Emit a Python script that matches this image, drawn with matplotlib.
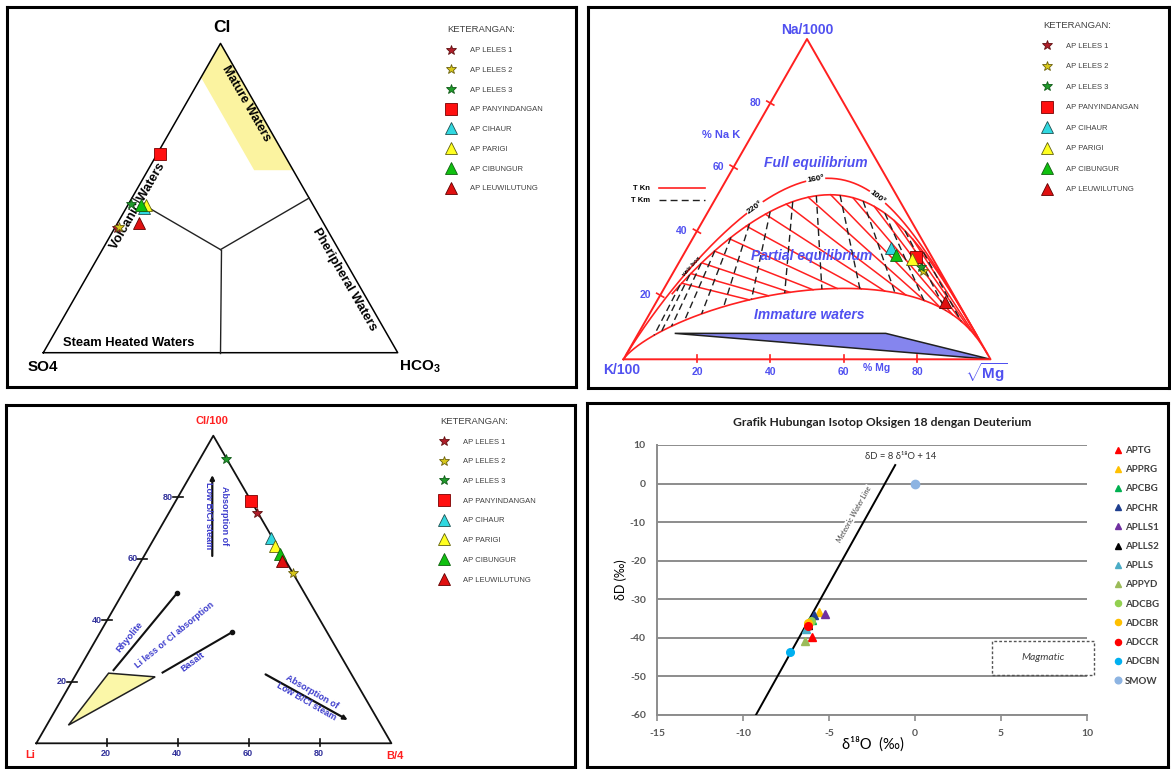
import numpy as np
import matplotlib
matplotlib.use('Agg')
import matplotlib.pyplot as plt
from matplotlib.lines import Line2D
from matplotlib.patches import Polygon, Rectangle

plt.rcParams['font.family'] = ['Liberation Sans', 'DejaVu Sans']
plt.rcParams['mathtext.fontset'] = 'custom'
plt.rcParams['mathtext.rm'] = 'Liberation Sans:bold'
plt.rcParams['mathtext.bf'] = 'Liberation Sans:bold'
plt.rcParams['mathtext.it'] = 'Liberation Sans:italic'
plt.rcParams['axes.unicode_minus'] = False

W, H = 1171, 769
CH = ['Lato', 'DejaVu Sans']

# ---------------- samples shown on the three ternary diagrams
samples = ['AP LELES 1', 'AP LELES 2', 'AP LELES 3', 'AP PANYINDANGAN',
           'AP CIHAUR', 'AP PARIGI', 'AP CIBUNGUR', 'AP LEUWILUTUNG']
s_marker = ['*', '*', '*', 's', '^', '^', '^', '^']
s_face = ['#b01e2a', '#d8c81a', '#1f9a2a', '#ff1010', '#30d8e0', '#ffff20', '#10c010', '#e01010']
s_edge = ['#601010', '#6a6010', '#105a18', '#7a0000', '#205050', '#606010', '#106010', '#600000']
s_size = [7, 7, 7, 8, 8, 8, 8, 8]

# Cl - SO4 - HCO3 (%)
cl = [40.4, 40.7, 48.1, 64.1, 46.7, 47.7, 47.7, 41.8]
so4 = [58.9, 58.3, 51.2, 35.1, 48.2, 47.2, 48.7, 52.1]
hco3 = [0.7, 1.0, 0.7, 0.8, 5.1, 5.1, 3.6, 6.1]

# Na/1000 - K/100 - sqrt(Mg) (%)
na = [32.5, 27.6, 28.7, 31.8, 34.9, 31.2, 32.5, 17.9]
kk = [4.6, 4.6, 4.5, 4.3, 9.6, 5.9, 9.4, 3.5]
mg = [62.9, 67.8, 66.8, 63.9, 55.5, 62.9, 58.1, 78.6]

# Cl/100 - Li - B/4 (%)
cl100 = [74.8, 55.3, 92.4, 78.8, 66.8, 64.2, 61.6, 59.3]
li = [0.2, 0.1, 0.2, 0.1, 0.5, 0.6, 0.5, 1.2]
b4 = [25.0, 44.6, 7.4, 21.1, 32.7, 35.2, 37.9, 39.5]

# ---------------- isotope chart
iso_names = ['APTG', 'APPRG', 'APCBG', 'APCHR', 'APLLS1', 'APLLS2', 'APLLS',
             'APPYD', 'ADCBG', 'ADCBR', 'ADCCR', 'ADCBN', 'SMOW']
iso_o18 = [-6.0, -5.6, -6.0, -5.9, -5.25, -6.2, -6.35, -6.4, -6.05, -6.2, -6.25, -7.25, 0.0]
iso_dd = [-39.9, -33.4, -35.3, -34.1, -33.8, -36.6, -37.8, -40.7, -35.6, -36.2, -37.0, -43.7, 0.0]
iso_marker = ['^'] * 8 + ['o'] * 5
iso_color = ['#ff0000', '#ffc000', '#00b050', '#1f3f8f', '#7030a0', '#000000', '#4bacc6',
             '#9bbb59', '#92d050', '#ffc000', '#ff0000', '#00b0f0', '#8db4e2']
mwl_o18 = [-9.25, -1.15]
mwl_dd = [-60.0, 4.8]
mag_o18 = [4.5, 10.4]
mag_dd = [-49.5, -40.7]

# ---------------- diagram templates
band_so4 = [0, 11, 11, 0]          # mature waters band
band_hco3 = [0, 0, 30, 41]
band_cl = [100, 89, 59, 59]

mi_full, mi_inner, mi_immature = 2.66, 2.57, 2.0   # maturity index of the curves
tkn_temps = list(range(80, 341, 20))
tkm_temps = list(range(60, 321, 20))
arc_label_temps = [220, 160, 100]
wedge_k = [82.0, 24.5, 0.0]
wedge_mg = [9.9, 67.4, 100.0]
wedge_na = [8.1, 8.1, 0.0]

yf_li = [68.2, 55.7, 88.0]         # Li-Cl-B yellow field
yf_b = [9.0, 22.7, 6.1]
yf_cl = [22.8, 21.6, 5.9]
rh_li, rh_b, rh_cl = [66.3, 35.9], [9.9, 15.3], [23.8, 48.8]
ba_li, ba_b, ba_cl = [52.9, 26.6], [24.1, 37.2], [23.0, 36.2]
ua_li, ua_b, ua_cl = [19.9, 6.7], [19.2, 6.1], [60.9, 87.2]
la_li, la_b, la_cl = [24.2, 8.5], [53.4, 83.9], [22.4, 7.6]
tick_vals = [20, 40, 60, 80]

RED = '#ff2020'
BLUE = '#5050f0'
NAVY = '#30309a'

fig = plt.figure(figsize=(W / 100, H / 100), dpi=100)


def panel(x0, y0, x1, y1):
    ax = fig.add_axes([x0 / W, 1 - y1 / H, (x1 - x0) / W, (y1 - y0) / H])
    ax.set_xlim(x0, x1)
    ax.set_ylim(y1, y0)
    ax.set_xticks([])
    ax.set_yticks([])
    for sp in ax.spines.values():
        sp.set_linewidth(2.2)
    return ax


def tern(p, q, r, verts):
    p, q, r = (np.asarray(v, float) for v in (p, q, r))
    s = p + q + r
    v = np.asarray(verts, float)
    x = (p * v[0, 0] + q * v[1, 0] + r * v[2, 0]) / s
    y = (p * v[0, 1] + q * v[1, 1] + r * v[2, 1]) / s
    return x, y


def plot_samples(ax, x, y):
    for i in range(len(samples)):
        ax.plot(x[i], y[i], ls='none', marker=s_marker[i], ms=s_size[i], mfc=s_face[i],
                mec=s_edge[i], mew=0.6, zorder=6)


def sample_legend(ax, x, y, ls):
    handles = [Line2D([], [], ls='none', marker=m, ms=s, mfc=f, mec=e, mew=0.6)
               for m, s, f, e in zip(s_marker, s_size, s_face, s_edge)]
    leg = ax.legend(handles, samples, loc='upper left', bbox_to_anchor=(x, y),
                    bbox_transform=ax.transData, frameon=False, borderpad=0, borderaxespad=0,
                    title='KETERANGAN:', title_fontsize=6.8, fontsize=5.5, labelspacing=ls,
                    handlelength=1.0, handletextpad=2.0, alignment='left', labelcolor='#404040')
    leg.get_title().set_color('#404040')
    return leg


# ================= panel 1 : Cl - SO4 - HCO3
ax1 = panel(7, 7, 576, 387)
V1 = [(43.3, 352.7), (397.7, 352.7), (220.5, 43.4)]
bx, by = tern(band_so4, band_hco3, band_cl, V1)
ax1.add_patch(Polygon(np.column_stack([bx, by]), closed=True, fc='#fbf3a0', ec='none', zorder=1))
ox, oy = tern([100, 0, 0, 100], [0, 100, 0, 0], [0, 0, 100, 0], V1)
ax1.plot(ox, oy, color='black', lw=1.1, zorder=3)
for mid in [(50, 0, 50), (0, 50, 50), (50, 50, 0)]:
    lx, ly = tern([100 / 3, mid[0]], [100 / 3, mid[1]], [100 / 3, mid[2]], V1)
    ax1.plot(lx, ly, color='#222222', lw=1.0, zorder=3)
ax1.text(222, 28, 'Cl', fontsize=12.5, fontweight='bold', ha='center', va='center')
ax1.text(42.5, 367, 'SO4', fontsize=11, fontweight='bold', ha='center', va='center')
ax1.text(420, 367, r'HCO$_3$', fontsize=11, fontweight='bold', ha='center', va='center')
ax1.text(128.7, 343.3, 'Steam Heated Waters', fontsize=9.3, fontweight='bold', ha='center', va='center')
ax1.text(246, 104, 'Mature Waters', fontsize=9, fontweight='bold', ha='center', va='center',
         rotation=-60, rotation_mode='anchor', zorder=4)
ax1.text(137.6, 205.7, 'Volcanic Waters', fontsize=9.3, fontweight='bold', ha='center', va='center',
         rotation=60, rotation_mode='anchor', zorder=4)
ax1.text(344.8, 279.3, 'Pheripheral Waters', fontsize=9.3, fontweight='bold', ha='center', va='center',
         rotation=-60, rotation_mode='anchor', zorder=4)
px, py = tern(so4, hco3, cl, V1)
plot_samples(ax1, px, py)
sample_legend(ax1, 446.8, 25.5, 1.62)

# ================= panel 2 : Na - K - Mg
ax2 = panel(588, 7, 1169, 388)
V2 = [(623.5, 359.3), (990.5, 359.3), (807.0, 39.0)]   # K/100, sqrt(Mg), Na/1000


def gig_curve(mi, r):
    r = np.asarray(r, float)
    return np.ones_like(r), 1 / r, 10 ** (mi - 2.26) * r ** -0.63


wx, wy = tern(wedge_k, wedge_mg, wedge_na, V2)
ax2.add_patch(Polygon(np.column_stack([wx, wy]), closed=True, fc='#8585ee', ec='#202020', lw=1.1, zorder=2))
ox, oy = tern([100, 0, 0, 100], [0, 100, 0, 0], [0, 0, 100, 0], V2)
ax2.plot(ox, oy, color=RED, lw=1.4, zorder=3)
for mi, r0 in [(mi_full, 3.5), (mi_inner, 1.4), (mi_immature, 3.5)]:
    cx, cy = tern(*gig_curve(mi, np.logspace(r0, -4, 400)), V2)
    ax2.plot(cx, cy, color=RED, lw=1.2, zorder=3)
for t in tkn_temps:
    ratio = 10 ** (1390 / (t + 273.15) - 1.75) / 10
    rs = [10 ** ((mi - 2.26 - np.log10(ratio)) / 0.63) for mi in (mi_inner, mi_immature)]
    ix, iy = tern([1, 1], [1 / rs[0], 1 / rs[1]], [ratio, ratio], V2)
    ax2.plot(ix, iy, color=RED, lw=1.1, zorder=3)
for t in tkm_temps:
    r = np.sqrt(10 ** (14.0 - 4410 / (t + 273.15))) / 100
    a = [10 ** (mi - 2.26) * r ** -0.63 for mi in (mi_inner, mi_immature)]
    ix, iy = tern([1, 1], [1 / r, 1 / r], a, V2)
    ax2.plot(ix, iy, color='#202020', lw=1.0, dashes=(5, 3), zorder=3)
for t in arc_label_temps:
    ratio = 10 ** (1390 / (t + 273.15) - 1.75) / 10
    r = 10 ** ((mi_full - 2.26 - np.log10(ratio)) / 0.63)
    lx, ly = tern(*gig_curve(mi_full, [r * 1.2, r, r / 1.2]), V2)
    ang = np.degrees(np.arctan2(-(ly[2] - ly[0]), lx[2] - lx[0]))
    ax2.text(lx[1], ly[1], f'{t}\u00b0', rotation=ang, rotation_mode='anchor', ha='center', va='center',
             fontsize=6, fontweight='bold', bbox=dict(fc='white', ec='none', pad=0.6), zorder=4)
# axes ticks along edges
for v in tick_vals:
    tx, ty = tern([100 - v], [0], [v], V2)
    ax2.plot([tx[0] - 3.5, tx[0] + 3.5], [ty[0] - 2, ty[0] + 2], color=RED, lw=1.2)
    ax2.text(tx[0] - 15, ty[0], str(v), color=BLUE, fontsize=7.5, fontweight='bold', ha='center', va='center')
    tx, ty = tern([100 - v], [v], [0], V2)
    ax2.plot([tx[0], tx[0]], [ty[0] - 4.5, ty[0] + 3], color=RED, lw=1.2)
    ax2.text(tx[0], ty[0] + 13, str(v), color=BLUE, fontsize=7.5, fontweight='bold', ha='center', va='center')
ax2.text(721.4, 135, '% Na K', color=BLUE, fontsize=8, fontweight='bold', ha='center', va='center')
ax2.text(876.5, 368.3, '% Mg', color=BLUE, fontsize=7.5, fontweight='bold', ha='center', va='center')
ax2.text(807.7, 30, 'Na/1000', color=BLUE, fontsize=10, fontweight='bold', ha='center', va='center')
ax2.text(621.6, 370, 'K/100', color=BLUE, fontsize=10, fontweight='bold', ha='center', va='center')
ax2.text(986.7, 373, r'$\sqrt{\mathrm{Mg}}$', color=BLUE, fontsize=11, ha='center', va='center')
for txt, xy in [('Full equilibrium', (815.9, 163.3)), ('Partial equilibrium', (811.8, 255.7)),
                ('Immature waters', (809.2, 315))]:
    ax2.text(*xy, txt, color=BLUE, fontsize=10, fontweight='bold', style='italic',
             ha='center', va='center', zorder=5)
ax2.text(691.7, 266.7, 'weir box', fontsize=4.5, fontweight='bold', rotation=48,
         ha='center', va='center', zorder=4)
tleg = ax2.legend([Line2D([], [], color=RED, lw=1.2), Line2D([], [], color='#202020', lw=1.0, dashes=(5, 3))],
                  ['T Kn', 'T Km'], markerfirst=False, frameon=False, loc='upper left',
                  bbox_to_anchor=(631, 185), bbox_transform=ax2.transData, borderpad=0, borderaxespad=0,
                  handlelength=6, handletextpad=1.2, labelspacing=0.6,
                  prop=dict(weight='bold', size=5.5))
ax2.add_artist(tleg)
px, py = tern(kk, mg, na, V2)
plot_samples(ax2, px, py)
sample_legend(ax2, 1043, 20.5, 1.72)

# ================= panel 3 : Cl - Li - B
ax3 = panel(6, 405, 575, 767)
V3 = [(36.3, 743.3), (391.4, 743.3), (213.3, 435.7)]   # Li, B/4, Cl/100
yx, yy = tern(yf_li, yf_b, yf_cl, V3)
ax3.add_patch(Polygon(np.column_stack([yx, yy]), closed=True, fc='#fbf7a8', ec='#202020', lw=1.1, zorder=2))
ox, oy = tern([100, 0, 0, 100], [0, 100, 0, 0], [0, 0, 100, 0], V3)
ax3.plot(ox, oy, color='#111111', lw=1.3, zorder=3)
for v in tick_vals:
    tx, ty = tern([100 - v], [0], [v], V3)
    ax3.plot([tx[0] - 5, tx[0] + 5], [ty[0], ty[0]], color='#111111', lw=1.2)
    ax3.text(tx[0] - 10, ty[0], str(v), color=NAVY, fontsize=6.5, fontweight='bold', ha='center', va='center')
    tx, ty = tern([100 - v], [v], [0], V3)
    ax3.plot([tx[0], tx[0]], [ty[0] - 4, ty[0] + 3], color='#111111', lw=1.2)
    ax3.text(tx[0] - 1.5, ty[0] + 10.5, str(v), color=NAVY, fontsize=6.5, fontweight='bold', ha='center', va='center')
for lli, lb, lcl in [(rh_li, rh_b, rh_cl), (ba_li, ba_b, ba_cl)]:
    lx, ly = tern(lli, lb, lcl, V3)
    ax3.plot(lx, ly, color='#111111', lw=1.5, zorder=3)
    ax3.plot(lx[1], ly[1], 'o', ms=3, color='#111111', zorder=3)
for lli, lb, lcl in [(ua_li, ua_b, ua_cl), (la_li, la_b, la_cl)]:
    lx, ly = tern(lli, lb, lcl, V3)
    ax3.annotate('', xy=(lx[1], ly[1]), xytext=(lx[0], ly[0]),
                 arrowprops=dict(arrowstyle='-|>', color='#111111', lw=1.6, mutation_scale=6,
                                 shrinkA=0, shrinkB=0), zorder=3)
ax3.text(212, 421, 'Cl/100', color=RED, fontsize=8, fontweight='bold', ha='center', va='center')
ax3.text(30.3, 755, 'Li', color=RED, fontsize=8, fontweight='bold', ha='center', va='center')
ax3.text(395.1, 755.7, 'B/4', color=RED, fontsize=8, fontweight='bold', ha='center', va='center')
TB = '#3c3ccc'
ax3.text(216.5, 515.3, 'Absorption of\nLow B/Cl steam', color=TB, fontsize=6.5, fontweight='bold',
         rotation=-90, ha='center', va='center', linespacing=1.9, rotation_mode='anchor')
ax3.text(309, 696.7, 'Absorption of\nLow B/Cl steam', color=TB, fontsize=6.5, fontweight='bold',
         rotation=-30, ha='center', va='center', linespacing=1.2, rotation_mode='anchor')
ax3.text(130, 637.3, 'Rhyolite', color=TB, fontsize=6.7, fontweight='bold', rotation=50.5,
         ha='center', va='center', rotation_mode='anchor')
ax3.text(175, 634.7, 'Li less or Cl absorption', color=TB, fontsize=6.4, fontweight='bold', rotation=39.3,
         ha='center', va='center', rotation_mode='anchor')
ax3.text(192.7, 661.7, 'Basalt', color=TB, fontsize=6.5, fontweight='bold', rotation=36.7,
         ha='center', va='center', rotation_mode='anchor')
px, py = tern(li, b4, cl100, V3)
plot_samples(ax3, px, py)
sample_legend(ax3, 440.2, 416.8, 1.62)

# ================= panel 4 : isotope chart
ax4f = panel(587, 403, 1168, 767)
ax4 = fig.add_axes([657 / W, 1 - 715 / H, 430 / W, 270 / H])
ax4.set_xlim(-15, 10)
ax4.set_ylim(-60, 10)
ax4.set_xticks(range(-15, 11, 5))
ax4.set_yticks(range(-60, 11, 10))
ax4.grid(axis='y', color='#8c8c8c', lw=1.4)
ax4.set_axisbelow(True)
for s in ['top', 'right']:
    ax4.spines[s].set_visible(False)
for s in ['left', 'bottom']:
    ax4.spines[s].set_color('#8c8c8c')
    ax4.spines[s].set_linewidth(1.4)
ax4.tick_params(axis='y', length=0, pad=8, labelsize=7.5, labelcolor='#595959')
ax4.tick_params(axis='x', length=4, width=1.2, color='#8c8c8c', pad=6, labelsize=7.5, labelcolor='#595959')
for lab in ax4.get_xticklabels() + ax4.get_yticklabels():
    lab.set_family(CH)
    lab.set_fontweight('bold')
ax4.plot(mwl_o18, mwl_dd, color='black', lw=1.4, zorder=3)
for i in range(len(iso_names)):
    ax4.plot(iso_o18[i], iso_dd[i], ls='none', marker=iso_marker[i], ms=6 if i == 12 else 5.5,
             color=iso_color[i], label=iso_names[i], zorder=4)
ax4.add_patch(Rectangle((mag_o18[0], mag_dd[0]), mag_o18[1] - mag_o18[0], mag_dd[1] - mag_dd[0],
                        fill=False, ls=(0, (2, 1.5)), ec='#555555', lw=1.0, clip_on=False, zorder=3))
ax4.text(np.mean(mag_o18), np.mean(mag_dd), 'Magmatic', style='italic', fontsize=7.5, family=CH,
         ha='center', va='center', color='#404040')
ax4.text(-0.82, 6.97, '\u03b4D = 8 \u03b4\u00b9\u2078O + 14', fontsize=6.8, family=CH,
         ha='center', va='center', color='#333333')
ax4.text(-3.55, -7.9, 'Meteoric Water Line', fontsize=5.3, family=CH, style='italic', color='#404040',
         rotation=np.degrees(np.arctan(8)), transform_rotates_text=True, rotation_mode='anchor',
         ha='center', va='center', bbox=dict(fc='white', ec='none', pad=0.5), zorder=2)
ax4.legend(loc='upper left', bbox_to_anchor=(1115 / W, 1 - 446 / H), bbox_transform=fig.transFigure,
           frameon=False, borderpad=0, borderaxespad=0, labelspacing=1.05, handlelength=0.6,
           handletextpad=0.45, markerscale=0.8, prop=dict(family=CH, size=7, weight='bold'),
           labelcolor='#404040')
ax4f.text(882, 422.3, 'Grafik Hubungan Isotop Oksigen 18 dengan Deuterium', fontsize=8.7,
          fontweight='bold', family=CH, ha='center', va='center', color='#222222')
ax4f.text(620.5, 580, '\u03b4D (\u2030)', fontsize=9, family=CH, rotation=90, ha='center', va='center')
ax4f.text(872.7, 744.3, '\u03b4\u00b9\u2078O  (\u2030)', fontsize=10.5, family=CH, ha='center', va='center')

fig.savefig('out.png', dpi=100)
